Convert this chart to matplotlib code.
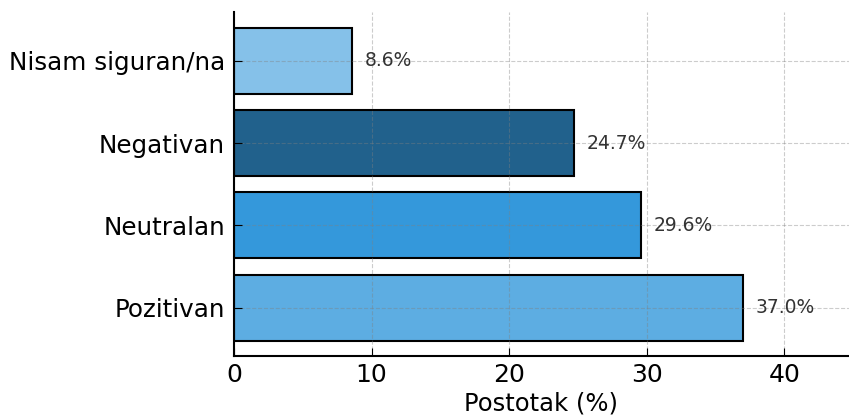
import matplotlib.pyplot as plt
import numpy as np

categories = ['Pozitivan', 'Neutralan', 'Negativan', 'Nisam siguran/na']
values = [37.0, 29.6, 24.7, 8.6]
colors = ['#5DADE2', '#3498DB', '#21618C', '#85C1E9']

fig = plt.figure(figsize=(8.49, 4.2), dpi=100)
ax = fig.add_axes([0.2756, 0.152, 0.7244, 0.819])

index = np.arange(len(categories))
bars = ax.barh(index, values, height=0.8, color=colors, edgecolor='black', linewidth=1.5)

for i, v in enumerate(values):
    ax.text(v + 0.9, i, f'{v:.1f}%', va='center', ha='left', fontsize=13.5, color='#333333')

ax.set_yticks(index)
ax.set_yticklabels(categories, fontsize=17.7)
ax.set_xticks([0, 10, 20, 30, 40])
ax.tick_params(axis='x', labelsize=18, direction='in', length=6, pad=5)
ax.tick_params(axis='y', direction='in', length=6, pad=6.5)
ax.set_xlabel('Postotak (%)', fontsize=17.5, labelpad=3)
ax.set_xlim(0, 44.7)
ax.grid(True, linestyle='--', color='gray', alpha=0.4)
ax.spines['top'].set_visible(False)
ax.spines['right'].set_visible(False)
for s in ['left', 'bottom']:
    ax.spines[s].set_linewidth(1.5)

fig.savefig('out.png', dpi=100)
